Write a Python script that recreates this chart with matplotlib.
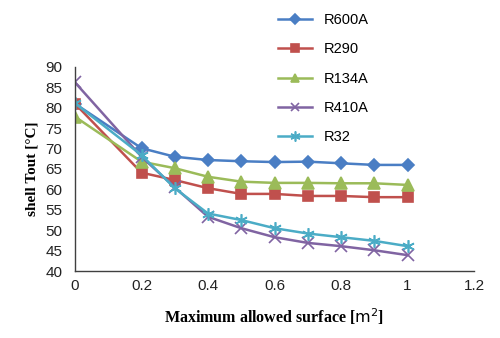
import matplotlib
matplotlib.use("Agg")
import matplotlib.pyplot as plt

# Heat-exchanger shell outlet temperature vs. maximum allowed surface
surface = [0, 0.2, 0.3, 0.4, 0.5, 0.6, 0.7, 0.8, 0.9, 1.0]
r600a = [81, 70.1, 68.0, 67.2, 66.9, 66.7, 66.8, 66.4, 66.0, 66.0]
r290 = [81, 64.1, 62.3, 60.3, 58.9, 58.9, 58.4, 58.4, 58.1, 58.1]
r134a = [77.8, 66.8, 65.2, 63.1, 61.9, 61.6, 61.6, 61.5, 61.5, 61.1]
r410a = [86.2, 68.0, 60.5, 53.3, 50.5, 48.3, 46.9, 46.1, 45.1, 43.9]
r32 = [81.1, 68.4, 60.3, 54.1, 52.5, 50.5, 49.2, 48.3, 47.4, 46.1]

series = [
    ("R600A", r600a, "#4A7EC4", "D", 6.5),
    ("R290", r290, "#C0504D", "s", 7.5),
    ("R134A", r134a, "#9BBB59", "^", 8),
    ("R410A", r410a, "#8064A2", "x", 8),
    ("R32", r32, "#4BACC6", (6, 2, 0), 9),
]

xticks = [0, 0.2, 0.4, 0.6, 0.8, 1, 1.2]
xtick_labels = ["0", "0.2", "0.4", "0.6", "0.8", "1", "1.2"]
yticks = [40, 45, 50, 55, 60, 65, 70, 75, 80, 85, 90]

fig = plt.figure(figsize=(5.0, 3.38), dpi=100)
ax = fig.add_axes([0.15, 0.198, 0.798, 0.604])

handles = []
for name, vals, color, marker, ms in series:
    (h,) = ax.plot(surface, vals, color=color, lw=1.8, marker=marker,
                   markersize=ms, markerfacecolor=color, markeredgecolor=color,
                   markeredgewidth=1.2, label=name)
    handles.append(h)

ax.set_xlim(0, 1.2)
ax.set_ylim(40, 90)
ax.set_xticks(xticks)
ax.set_xticklabels(xtick_labels)
ax.set_yticks(yticks)
ax.tick_params(length=0, labelsize=11)
ax.tick_params(axis="y", pad=9)
ax.tick_params(axis="x", pad=6)
for lbl in ax.get_xticklabels() + ax.get_yticklabels():
    lbl.set_family("Liberation Sans")
    lbl.set_color("#222222")
ax.spines["top"].set_visible(False)
ax.spines["right"].set_visible(False)
for s in ("left", "bottom"):
    ax.spines[s].set_color("#404040")
    ax.spines[s].set_linewidth(1.0)

ax.set_xlabel(r"Maximum allowed surface [$\mathsf{m^2}$]",
              family="Liberation Serif", fontweight="bold", fontsize=11.5,
              labelpad=9)
ax.xaxis.label.set_math_fontfamily("dejavusans")
ax.set_ylabel("shell Tout [°C]", family="Liberation Serif",
              fontweight="bold", fontsize=11, labelpad=5)

leg = fig.legend(handles=handles, loc="upper left",
                 bbox_to_anchor=(0.53, 1.0), frameon=False,
                 prop={"family": "Liberation Sans", "size": 10.5},
                 handlelength=2.3, labelspacing=1.05, markerscale=0.8)

fig.savefig("out.png", dpi=100)
